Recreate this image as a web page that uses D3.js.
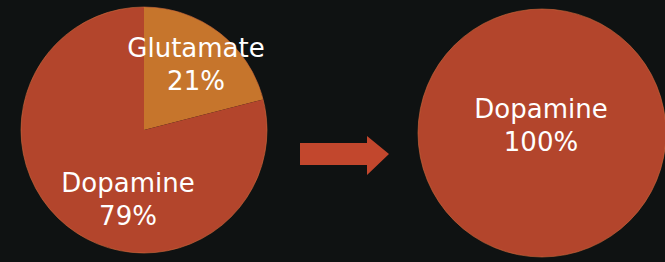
<!DOCTYPE html>
<html>
<head>
<meta charset="utf-8">
<script src="https://cdn.jsdelivr.net/npm/d3@7"></script>
<style>
    body { margin: 0; background: #0f1212; }
    #chart { width: 665px; height: 262px; }
    .label { fill: #ffffff; font-family: "DejaVu Sans", sans-serif; font-size: 26px; text-anchor: middle; }
</style>
</head>
<body>
<div id="chart"></div>
<script>

// before / after composition
var beforeNames = ["Glutamate", "Dopamine"];
var beforeValues = [21, 79];

var afterNames = ["Dopamine"];
var afterValues = [100];

var colors = { "Glutamate": "#c6752c", "Dopamine": "#b3452c" };

var width = document.querySelector("#chart").clientWidth;
var height = document.querySelector("#chart").clientHeight;

var svg = d3.select("#chart")
    .append("svg")
    .attr("width", width)
    .attr("height", height);

svg.append("rect")
    .attr("width", width)
    .attr("height", height)
    .attr("fill", "#0f1212");

var pie = d3.pie()
    .sort(null)
    .value(function(d) { return d.value; });

function drawPie(names, values, cx, cy, r, labelPos) {
    var data = names.map(function(n, i) { return { name: n, value: values[i] }; });
    var arc = d3.arc().innerRadius(0).outerRadius(r);

    var g = svg.append("g")
        .attr("transform", "translate(" + cx + "," + cy + ")");

    var arcs = pie(data);

    g.selectAll("path")
        .data(arcs)
        .enter()
        .append("path")
            .attr("d", arc)
            .attr("fill", function(d) { return colors[d.data.name]; });

    g.append("circle")
        .attr("r", r)
        .attr("fill", "none")
        .attr("stroke", "#cf6a3c")
        .attr("stroke-opacity", 0.6)
        .attr("stroke-width", 1);

    var total = d3.sum(values);

    var t = g.selectAll("text.label")
        .data(arcs)
        .enter()
        .append("text")
            .attr("class", "label")
            .attr("x", function(d, i) { return labelPos[i][0]; })
            .attr("y", function(d, i) { return labelPos[i][1]; });

    t.append("tspan")
        .attr("x", function(d, i) { return labelPos[i][0]; })
        .text(function(d) { return d.data.name; });

    t.append("tspan")
        .attr("x", function(d, i) { return labelPos[i][0]; })
        .attr("dy", 33)
        .text(function(d) { return Math.round(d.data.value / total * 100) + "%"; });
}

drawPie(beforeNames, beforeValues, 144, 130, 123, [[52, -73], [-16, 62]]);
drawPie(afterNames, afterValues, 542, 133, 124, [[-1, -15]]);

// arrow between the two pies
var arrow = d3.path();
arrow.moveTo(300, 143);
arrow.lineTo(367, 143);
arrow.lineTo(367, 136);
arrow.lineTo(389, 154);
arrow.lineTo(367, 175);
arrow.lineTo(367, 165);
arrow.lineTo(300, 165);
arrow.closePath();

svg.append("path")
    .attr("d", arrow.toString())
    .attr("fill", "#c2472d");

</script>
</body>
</html>
